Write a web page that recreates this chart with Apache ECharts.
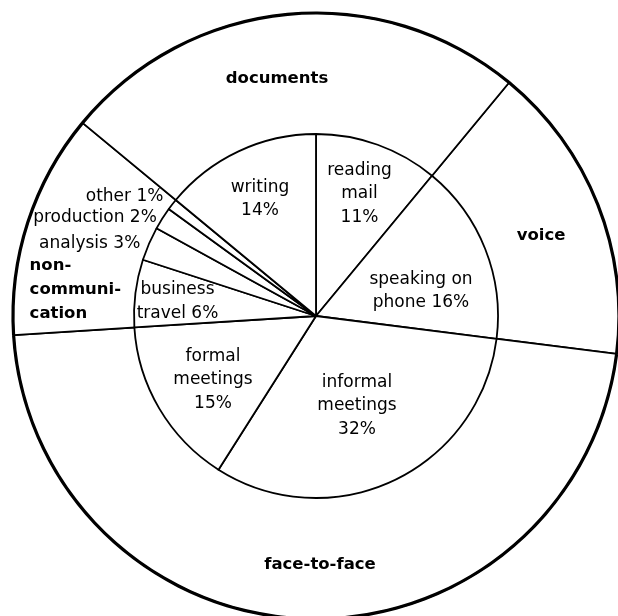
<!DOCTYPE html>
<html>
<head>
<meta charset="utf-8">
<script src="https://cdn.jsdelivr.net/npm/echarts@6/dist/echarts.min.js"></script>
<style>
html,body{margin:0;padding:0;background:#fff;}
#chart{width:618px;height:616px;}
</style>
</head>
<body>
<div id="chart"></div>
<script>
// ---- data ----
const innerNames = ['reading mail', 'speaking on phone', 'informal meetings', 'formal meetings',
  'business travel', 'analysis', 'production', 'other', 'writing'];
const innerValues = [11, 16, 32, 15, 6, 3, 2, 1, 14];
const innerLabels = ['reading\nmail\n11%', 'speaking on\nphone 16%', 'informal\nmeetings\n32%',
  'formal\nmeetings\n15%', 'business\ntravel 6%', 'analysis 3%', 'production 2%', 'other 1%', 'writing\n14%'];

const outerNames = ['voice', 'face-to-face', 'non-communication', 'documents'];
const outerValues = [16, 47, 12, 25];
const outerLabels = ['voice', 'face-to-face', 'non-\ncommuni-\ncation', 'documents'];

// ---- label placement (style) ----
const labelPos = {
  'reading mail': [359.5, 194, 'center'],
  'speaking on phone': [421, 291, 'center'],
  'informal meetings': [357, 406, 'center'],
  'formal meetings': [213, 380, 'center'],
  'business travel': [177.5, 301.5, 'center'],
  'analysis': [89.7, 243.6, 'center'],
  'production': [95, 218, 'center'],
  'other': [124.6, 196.3, 'center'],
  'writing': [260, 199, 'center'],
  'voice': [541, 236, 'center'],
  'face-to-face': [320, 565, 'center'],
  'documents': [277, 79, 'center'],
  'non-communication': [29.6, 289.7, 'left']
};

const CENTER = [316, 316];
const R_IN = 182;
const R_OUT = 303;
const innerTotal = innerValues.reduce((a, b) => a + b, 0);
// the outer ring starts where the first inner slice (reading mail) ends
const outerStart = 90 - innerValues[0] / innerTotal * 360;

const FONT = 'DejaVu Sans';

const chart = echarts.init(document.getElementById('chart'), null, {renderer: 'canvas'});

function layoutFor(names) {
  return function (p) {
    const pos = labelPos[names[p.dataIndex]];
    return {x: pos[0], y: pos[1], align: pos[2], verticalAlign: 'middle'};
  };
}

chart.setOption({
  backgroundColor: '#fff',
  animation: false,
  series: [
    {
      type: 'pie',
      name: 'groups',
      center: CENTER,
      radius: [0, R_OUT],
      startAngle: outerStart,
      clockwise: true,
      silent: true,
      avoidLabelOverlap: false,
      z: 1,
      itemStyle: {color: '#fff', borderColor: '#000', borderWidth: 1.8, borderJoin: 'round'},
      label: {
        show: true, position: 'inside', color: '#000',
        fontFamily: FONT, fontWeight: 'bold', fontSize: 16.5, lineHeight: 23.6,
        formatter: p => outerLabels[p.dataIndex]
      },
      labelLine: {show: false},
      labelLayout: layoutFor(outerNames),
      emphasis: {disabled: true},
      data: outerNames.map((n, i) => ({name: n, value: outerValues[i]}))
    },
    {
      type: 'pie',
      name: 'rim',
      center: CENTER,
      radius: [R_OUT - 1.6, R_OUT + 1.6],
      startAngle: outerStart,
      silent: true,
      z: 3,
      itemStyle: {color: '#000', borderWidth: 0},
      label: {show: false},
      labelLine: {show: false},
      emphasis: {disabled: true},
      data: outerNames.map((n, i) => ({name: n, value: outerValues[i]}))
    },
    {
      type: 'pie',
      name: 'activities',
      center: CENTER,
      radius: [0, R_IN],
      startAngle: 90,
      clockwise: true,
      silent: true,
      avoidLabelOverlap: false,
      z: 2,
      itemStyle: {color: '#fff', borderColor: '#000', borderWidth: 1.8, borderJoin: 'round'},
      label: {
        show: true, position: 'inside', color: '#000',
        fontFamily: FONT, fontSize: 17, lineHeight: 23.6,
        formatter: p => innerLabels[p.dataIndex]
      },
      labelLine: {show: false},
      labelLayout: layoutFor(innerNames),
      emphasis: {disabled: true},
      data: innerNames.map((n, i) => ({name: n, value: innerValues[i]}))
    }
  ]
});
</script>
</body>
</html>
